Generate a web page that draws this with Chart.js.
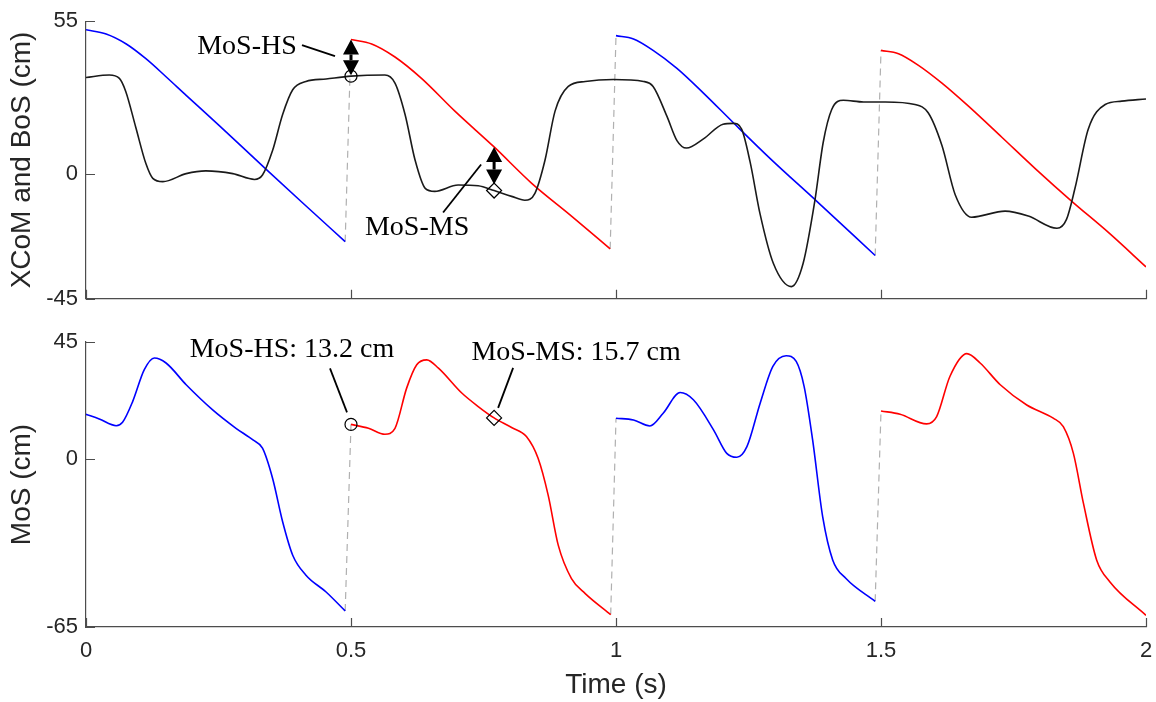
<!DOCTYPE html>
<html lang="en">
<head>
<meta charset="UTF-8">
<title>XCoM, BoS and MoS</title>
<script src="https://cdn.jsdelivr.net/npm/chart.js"></script>
<style>
  body { margin: 0; background: #fff; }
  #wrap { position: relative; width: 1156px; height: 702px; }
  .box { position: absolute; left: 0; width: 1156px; }
  #topBox { top: 0; height: 320px; }
  #botBox { top: 320px; height: 382px; }
</style>
</head>
<body>
<div id="wrap">
  <div class="box" id="topBox"><canvas id="xcomChart"></canvas></div>
  <div class="box" id="botBox"><canvas id="mosChart"></canvas></div>
</div>

<script>
// ---- data ----
const xTicks = [0, 0.5, 1, 1.5, 2];
const topYTicks = [-45, 0, 55];
const botYTicks = [-65, 0, 45];

// extrapolated centre of mass, whole trial (cm)
const xcomT = [0, 0.044, 0.063, 0.075, 0.094, 0.113, 0.126, 0.145, 0.189, 0.226, 0.277, 0.318, 0.333, 0.352, 0.371,
  0.390, 0.415, 0.453, 0.5, 0.564, 0.583, 0.602, 0.621, 0.640, 0.658, 0.702, 0.740, 0.77, 0.803, 0.828, 0.847, 0.866,
  0.885, 0.910, 0.942, 0.995, 1.052, 1.070, 1.096, 1.115, 1.133, 1.165, 1.202, 1.221, 1.237, 1.253, 1.272, 1.297,
  1.331, 1.353, 1.375, 1.391, 1.407, 1.429, 1.467, 1.508, 1.564, 1.589, 1.615, 1.640, 1.671, 1.734, 1.778, 1.832,
  1.850, 1.866, 1.891, 1.923, 1.954, 2.0];
const xcomV = [34.7, 35.6, 34.4, 29.7, 16.7, 3.7, -1.6, -2.8, 0.1, 1.1, 0.1, -2.0, -0.4, 8.4, 21.4,
  30.3, 33.3, 34.2, 35.2, 35.6, 32.7, 21.4, 4.9, -5.2, -6.3, -4.0, -4.3, -6.0, -8.1, -9.5, -7.0, 4.9,
  22.6, 31.5, 33.3, 34.0, 33.3, 31.5, 20.8, 12.0, 9.3, 12.6, 17.9, 18.2, 16.1, 4.3, -14.6, -32.3,
  -40.6, -32.3, -9.9, 11.4, 23.2, 26.5, 25.9, 25.9, 25.0, 22.0, 10.2, -7.5, -15.6, -13.4, -15.2, -19.6,
  -16.4, -5.2, 16.1, 25.0, 26.2, 27.0];

// base of support, one array pair per step (cm)
const bos1T = [0, 0.038, 0.076, 0.113, 0.151, 0.189, 0.252, 0.340, 0.409, 0.489];
const bos1V = [51.9, 50.4, 46.8, 41.5, 35.0, 28.3, 17.3, 1.6, -10.5, -24.4];
const bos2T = [0.5, 0.539, 0.583, 0.633, 0.696, 0.77, 0.841, 0.916, 0.989];
const bos2V = [48.4, 46.8, 42.1, 34.4, 22.6, 9.7, -3.4, -15.2, -27.0];
const bos3T = [1.0, 1.033, 1.070, 1.115, 1.165, 1.221, 1.291, 1.379, 1.489];
const bos3V = [49.8, 48.6, 44.5, 38.0, 29.1, 18.5, 5.5, -9.9, -29.4];
const bos4T = [1.5, 1.533, 1.570, 1.615, 1.665, 1.728, 1.791, 1.860, 1.929, 2.0];
const bos4V = [44.5, 43.3, 39.2, 32.7, 24.4, 13.2, 1.9, -9.9, -21.1, -33.5];

// margin of stability, one array pair per step (cm)
const mos1T = [0, 0.025, 0.057, 0.069, 0.088, 0.110, 0.129, 0.151, 0.189, 0.239, 0.283, 0.315, 0.333, 0.352, 0.371, 0.390, 0.415, 0.453, 0.489];
const mos1V = [17.1, 15.3, 12.7, 14.0, 22.0, 34.3, 38.8, 36.9, 28.5, 18.8, 11.7, 7.2, 4.0, -7.6, -24.4, -37.3, -45.0, -51.5, -58.8];
const mos2T = [0.5, 0.533, 0.564, 0.583, 0.605, 0.624, 0.643, 0.665, 0.709, 0.740, 0.77, 0.803, 0.831, 0.853, 0.872, 0.891, 0.916, 0.942, 0.990];
const mos2V = [13.2, 11.7, 9.4, 11.7, 27.2, 36.2, 38.1, 34.9, 25.3, 20.1, 15.7, 12.0, 8.5, 0.1, -14.1, -33.4, -46.3, -52.1, -60.2];
const mos3T = [1.0, 1.033, 1.064, 1.089, 1.121, 1.146, 1.184, 1.209, 1.228, 1.247, 1.272, 1.296, 1.321, 1.340, 1.355, 1.371, 1.390, 1.409, 1.434, 1.489];
const mos3V = [15.6, 14.9, 12.6, 17.5, 25.5, 22.7, 11.1, 2.0, 0.5, 4.6, 21.4, 35.6, 39.7, 37.5, 27.8, 7.2, -22.5, -39.2, -46.3, -55.1];
const mos4T = [1.5, 1.536, 1.586, 1.605, 1.630, 1.662, 1.687, 1.725, 1.775, 1.825, 1.844, 1.863, 1.882, 1.907, 1.932, 2.0];
const mos4V = [18.4, 17.1, 13.4, 16.2, 31.7, 40.5, 36.9, 28.5, 20.7, 15.6, 12.3, 2.0, -17.3, -39.2, -47.6, -60.5];

// events: heel strike and mid stance of the second step
const hsTime = 0.5, msTime = 0.77;
const xcomHS = 35.2, bosHS = 48.4, mosHS = 13.2;
const xcomMS = -6.0, bosMS = 9.7, mosMS = 15.7;

// ---- styling ----
const sansFont = '"Liberation Sans", Arial, sans-serif';
const serifFont = '"Liberation Serif", "Times New Roman", serif';
const axisColor = '#4d4d4d';
const textColor = '#262626';
const BLUE = '#0000ff', RED = '#ff0000', BLACK = '#1a1a1a';

function pts(t, v) { return t.map((x, i) => ({ x: x, y: v[i] })); }
function joint(ta, va, tb, vb) {
  return [{ x: ta[ta.length - 1], y: va[va.length - 1] }, { x: tb[0], y: vb[0] }];
}
function curve(data, color) {
  return { data: data, borderColor: color, borderWidth: 1.6, pointRadius: 0,
    cubicInterpolationMode: 'monotone', fill: false };
}
function hsLine(data) {
  return { data: data, borderColor: '#b0b0b0', borderWidth: 1.2, borderDash: [7, 5],
    pointRadius: 0, fill: false };
}
function marker(x, y, style, r) {
  return { data: [{ x: x, y: y }], showLine: false, pointStyle: style, pointRadius: r,
    pointBorderColor: '#000', pointBackgroundColor: 'rgba(255,255,255,0)', pointBorderWidth: 1.2 };
}

function xScale(showLabels, height, title) {
  return {
    type: 'linear', min: 0, max: 2,
    afterBuildTicks: s => { s.ticks = xTicks.map(v => ({ value: v })); },
    grid: { display: false, drawTicks: false },
    border: { display: true, color: axisColor, width: 1.2 },
    ticks: { display: showLabels, color: textColor, font: { family: sansFont, size: 22 },
      padding: 11, maxRotation: 0, callback: v => String(v) },
    title: { display: !!title, text: title || '', color: textColor,
      font: { family: sansFont, size: 28 }, padding: { top: 2, bottom: 0 } },
    // fixed height, and no extra side room for the end labels
    afterFit: s => { s.height = height; s.paddingLeft = 0; s.paddingRight = 0; }
  };
}
function yScale(ticks, title) {
  return {
    type: 'linear', min: ticks[0], max: ticks[ticks.length - 1],
    afterBuildTicks: s => { s.ticks = ticks.map(v => ({ value: v })); },
    grid: { display: false, drawTicks: false },
    border: { display: true, color: axisColor, width: 1.2 },
    ticks: { color: textColor, font: { family: sansFont, size: 22 }, padding: 8 },
    title: { display: true, text: title, color: textColor,
      font: { family: sansFont, size: 28 }, padding: { top: 5, bottom: 0 } },
    afterFit: s => { s.width = 86; }
  };
}

// tick marks pointing into the plot area
const innerTicks = {
  id: 'innerTicks',
  afterDraw(chart) {
    const { ctx, chartArea: a, scales: { x, y } } = chart;
    ctx.save();
    ctx.strokeStyle = axisColor;
    ctx.lineWidth = 1.2;
    ctx.beginPath();
    x.ticks.forEach(t => {
      const px = Math.round(x.getPixelForValue(t.value)) + 0.5;
      ctx.moveTo(px, a.bottom); ctx.lineTo(px, a.bottom - 9);
    });
    y.ticks.forEach(t => {
      const py = Math.round(y.getPixelForValue(t.value)) + 0.5;
      ctx.moveTo(a.left, py); ctx.lineTo(a.left + 9, py);
    });
    ctx.stroke();
    ctx.restore();
  }
};

function doubleArrow(ctx, px, y1, y2) {
  const head = 15, half = 8;
  ctx.fillStyle = '#000';
  ctx.strokeStyle = '#000';
  ctx.lineWidth = 3;
  ctx.beginPath();
  ctx.moveTo(px, y1 + head); ctx.lineTo(px, y2 - head);
  ctx.stroke();
  ctx.beginPath();
  ctx.moveTo(px, y1); ctx.lineTo(px - half, y1 + head); ctx.lineTo(px + half, y1 + head); ctx.closePath();
  ctx.moveTo(px, y2); ctx.lineTo(px - half, y2 - head); ctx.lineTo(px + half, y2 - head); ctx.closePath();
  ctx.fill();
}

// text callouts with leader lines, and the double arrows between BoS and XCoM
const mosNotes = {
  id: 'mosNotes',
  afterDatasetsDraw(chart, args, opts) {
    const { ctx, scales: { x, y } } = chart;
    ctx.save();
    (opts.arrows || []).forEach(a => {
      const px = x.getPixelForValue(a.x);
      doubleArrow(ctx, px, y.getPixelForValue(a.from), y.getPixelForValue(a.to) - (a.gap || 0));
    });
    (opts.labels || []).forEach(l => {
      const px = x.getPixelForValue(l.x), py = y.getPixelForValue(l.y);
      ctx.strokeStyle = '#000';
      ctx.lineWidth = 1.8;
      ctx.beginPath();
      ctx.moveTo(px + l.line[0], py + l.line[1]);
      ctx.lineTo(px + l.line[2], py + l.line[3]);
      ctx.stroke();
      ctx.fillStyle = '#000';
      ctx.font = '28px ' + serifFont;
      ctx.textAlign = 'center';
      ctx.textBaseline = 'middle';
      ctx.fillText(l.text, px + l.dx, py + l.dy);
    });
    ctx.restore();
  }
};

const common = {
  responsive: true,
  maintainAspectRatio: false,
  animation: false,
  events: [],
  plugins: { legend: { display: false }, tooltip: { enabled: false } }
};

// ---- top: XCoM and BoS ----
new Chart(document.getElementById('xcomChart'), {
  type: 'line',
  data: {
    datasets: [
      marker(hsTime, xcomHS, 'circle', 6),
      marker(msTime, xcomMS, 'rectRot', 7.5),
      curve(pts(xcomT, xcomV), BLACK),
      curve(pts(bos1T, bos1V), BLUE),
      curve(pts(bos2T, bos2V), RED),
      curve(pts(bos3T, bos3V), BLUE),
      curve(pts(bos4T, bos4V), RED),
      hsLine(joint(bos1T, bos1V, bos2T, bos2V)),
      hsLine(joint(bos2T, bos2V, bos3T, bos3V)),
      hsLine(joint(bos3T, bos3V, bos4T, bos4V))
    ]
  },
  options: Object.assign({}, common, {
    layout: { padding: { top: 17, right: 10, left: 0, bottom: 0 } },
    scales: { x: xScale(false, 21), y: yScale(topYTicks, 'XCoM and BoS (cm)') },
    plugins: Object.assign({}, common.plugins, {
      mosNotes: {
        arrows: [
          { x: hsTime, from: bosHS, to: xcomHS, gap: 1 },
          { x: msTime, from: bosMS, to: xcomMS, gap: 6 }
        ],
        labels: [
          { x: hsTime, y: xcomHS, text: 'MoS-HS', dx: -104, dy: -30, line: [-49, -31, -16, -20] },
          { x: msTime, y: xcomMS, text: 'MoS-MS', dx: -77, dy: 37, line: [-51, 22, -13, -26] }
        ]
      }
    })
  }),
  plugins: [innerTicks, mosNotes]
});

// ---- bottom: MoS ----
new Chart(document.getElementById('mosChart'), {
  type: 'line',
  data: {
    datasets: [
      marker(hsTime, mosHS, 'circle', 6),
      marker(msTime, mosMS, 'rectRot', 7.5),
      curve(pts(mos1T, mos1V), BLUE),
      curve(pts(mos2T, mos2V), RED),
      curve(pts(mos3T, mos3V), BLUE),
      curve(pts(mos4T, mos4V), RED),
      hsLine(joint(mos1T, mos1V, mos2T, mos2V)),
      hsLine(joint(mos2T, mos2V, mos3T, mos3V)),
      hsLine(joint(mos3T, mos3V, mos4T, mos4V))
    ]
  },
  options: Object.assign({}, common, {
    layout: { padding: { top: 22, right: 10, left: 0, bottom: 0 } },
    scales: { x: xScale(true, 75, 'Time (s)'), y: yScale(botYTicks, 'MoS (cm)') },
    plugins: Object.assign({}, common.plugins, {
      mosNotes: {
        labels: [
          { x: hsTime, y: mosHS, text: 'MoS-HS: ' + mosHS.toFixed(1) + ' cm', dx: -59, dy: -75, line: [-21, -56, -4, -12] },
          { x: msTime, y: mosMS, text: 'MoS-MS: ' + mosMS.toFixed(1) + ' cm', dx: 82, dy: -65, line: [19, -50, 4, -10] }
        ]
      }
    })
  }),
  plugins: [innerTicks, mosNotes]
});
</script>
</body>
</html>
